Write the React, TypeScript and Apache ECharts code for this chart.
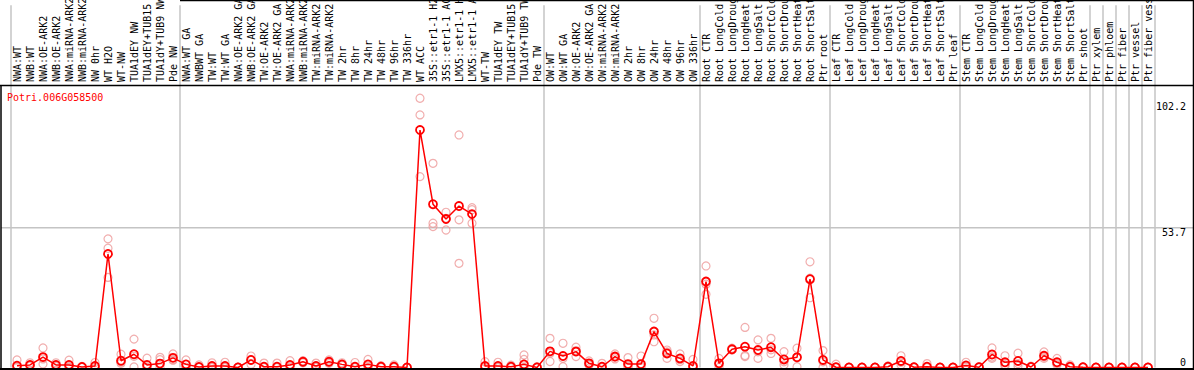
import React, { useEffect, useRef } from "react";
import * as echarts from "echarts";

const geneId = "Potri.006G058500";

const categories = [
  "NWA:WT", "NWB:WT", "NWA:OE-ARK2", "NWB:OE-ARK2", "NWA:miRNA-ARK2", "NWB:miRNA-ARK2",
  "NW 0hr", "WT H2O", "WT-NW", "TUA1dEY NW", "TUA1dEY+TUB15", "TUA1dY+TUB9 NW", "Pde NW",
  "NWA:WT GA", "NWBWT GA", "TW:WT", "TW:WT GA", "NWA:OE-ARK2 GA", "NWB:OE-ARK2 GA",
  "TW:OE-ARK2", "TW:OE-ARK2 GA", "NWA:miRNA-ARK2", "NWB:miRNA-ARK2", "TW:miRNA-ARK2",
  "TW:miRNA-ARK2", "TW 2hr", "TW 8hr", "TW 24hr", "TW 48hr", "TW 96hr", "TW 336hr",
  "WT ACC", "35S::etr1-1 H2", "35S::etr1-1 AC", "LMX5::etr1-1 H", "LMX5::etr1-1 A",
  "WT-TW", "TUA1dEY TW", "TUA1dEY+TUB15", "TUA1dY+TUB9 TW", "Pde TW",
  "OW:WT", "OW:WT GA", "OW:OE-ARK2", "OW:OE-ARK2 GA", "OW:miRNA-ARK2", "OW:miRNA-ARK2",
  "OW 2hr", "OW 8hr", "OW 24hr", "OW 48hr", "OW 96hr", "OW 336hr",
  "Root CTR", "Root LongCold", "Root LongDroug", "Root LongHeat", "Root LongSalt",
  "Root ShortCold", "Root ShortDrou", "Root ShortHeat", "Root ShortSalt", "Ptr root",
  "Leaf CTR", "Leaf LongCold", "Leaf LongDroug", "Leaf LongHeat", "Leaf LongSalt",
  "Leaf ShortCold", "Leaf ShortDrou", "Leaf ShortHeat", "Leaf ShortSalt", "Ptr leaf",
  "Stem CTR", "Stem LongCold", "Stem LongDroug", "Stem LongHeat", "Stem LongSalt",
  "Stem ShortCold", "Stem ShortDrou", "Stem ShortHeat", "Stem ShortSalt", "Ptr shoot",
  "Ptr xylem", "Ptr phloem", "Ptr fiber", "Ptr vessel", "Ptr fiber vess",
];

const meanValues = [
  0.7, 1.0, 4.0, 1.0, 1.0, 0.2, 0.6, 43.6, 2.6, 5.1, 1.0, 1.5, 3.7,
  1.2, 0.2, 0.6, 0.6, 0.0, 2.9, 0.3, 0.3, 1.0, 2.2, 0.6, 2.2, 1.2, 0.3, 1.2, 0.3, 0.3, 0.0,
  91.2, 62.7, 57.0, 62.0, 58.9, 0.6, 0.6, 0.3, 1.2, 0.0,
  6.2, 4.4, 6.1, 1.6, 0.3, 4.2, 1.3, 1.3, 13.8, 5.4, 3.5, 0.6,
  33.0, 1.6, 7.0, 8.0, 6.7, 7.8, 3.1, 3.9, 33.9, 2.9,
  0.1, 0.0, 0.0, 0.0, 0.3, 2.5, 0.1, 0.3, 0.0, 0.0,
  0.8, 0.1, 5.0, 2.0, 2.5, 0.2, 4.5, 2.0, 0.3, 0.1,
  0.0, 0.0, 0.0, 0.0, 0.0,
];

const rep1 = [
  2.9, 1.8, 7.5, 1.8, 2.8, 0.4, 1.9, 49.4, 5.1, 10.9, 3.6, 3.9, 5.2,
  2.9, 1.0, 1.8, 2.0, 0.1, 4.4, 1.7, 1.7, 2.6, 2.6, 1.7, 2.9, 1.8, 1.9, 3.1, 0.7, 1.0, 0.0,
  103.4, 78.4, 59.6, 89.3, 61.4, 2.2, 2.0, 0.9, 4.8, 0.3,
  11.2, 9.3, 7.8, 2.5, 1.6, 5.2, 3.8, 4.4, 18.9, 6.7, 5.2, 3.1,
  39.0, 3.5, 7.4, 15.4, 10.6, 11.2, 6.1, 7.4, 40.6, 6.5,
  1.3, 0.0, 0.0, 0.0, 0.6, 4.5, 0.2, 1.5, 0.0, 0.0,
  2.0, 0.3, 7.5, 4.5, 5.5, 0.5, 6.0, 3.5, 1.0, 0.2,
  0.0, 0.0, 0.0, 0.0, 0.0,
];

const rep2 = [
  0.5, 0.8, 3.3, 0.8, 0.3, 0.1, 0.0, 45.8, 2.1, 4.3, 0.0, 3.0, 3.0,
  0.0, 0.0, 0.0, 0.0, 0.0, 3.0, 0.0, 0.0, 0.5, 2.0, 0.2, 2.0, 1.0, 0.0, 0.6, 0.2, 0.0, 0.0,
  97.0, 55.4, 57.3, 56.7, 60.6, 0.0, 0.0, 0.0, 3.1, 0.0,
  5.5, 3.5, 6.5, 1.2, 0.0, 4.0, 0.5, 0.5, 12.5, 6.0, 3.0, 0.0,
  32.0, 1.2, 6.9, 4.6, 6.0, 6.8, 2.2, 4.0, 34.3, 2.2,
  0.0, 0.0, 0.0, 0.0, 0.2, 2.0, 0.0, 0.0, 0.0, 0.0,
  0.4, 0.0, 4.0, 1.0, 1.5, 0.1, 4.0, 1.5, 0.0, 0.0,
  0.0, 0.0, 0.0, 0.0, 0.0,
];

const rep3 = [
  0.0, 0.5, 1.3, 0.4, 0.1, 0.0, 0.0, 34.6, 1.6, 0.2, 0.0, 0.0, 2.8,
  0.0, 0.0, 0.0, 0.0, 0.0, 1.2, 0.0, 0.0, 0.0, 1.8, 0.0, 1.6, 0.8, 0.0, 0.0, 0.0, 0.0, 0.0,
  73.3, 54.1, 52.8, 40.0, 55.4, 0.0, 0.0, 0.0, 0.0, 0.0,
  2.3, 0.3, 4.2, 1.0, 0.0, 3.3, 0.0, 0.0, 9.9, 3.5, 2.3, 0.0,
  28.1, 0.0, 6.7, 4.2, 3.5, 5.4, 1.0, 0.3, 26.8, 0.0,
  0.0, 0.0, 0.0, 0.0, 0.0, 1.0, 0.0, 0.0, 0.0, 0.0,
  0.0, 0.0, 3.5, 0.5, 0.5, 0.0, 3.5, 1.0, 0.0, 0.0,
  0.0, 0.0, 0.0, 0.0, 0.0,
];

// indexes of categories that start a new group (separator drawn at their left edge)
const groupStarts = [0, 13, 41, 53, 63, 73, 83, 84, 85, 86, 87];
const yTickLabels = [102.2, 53.7, 0];
const gridLineValue = 53.7;
const Y_MAX = 108.1;

const FONT = "'DejaVu Sans Mono', monospace";
const SEP_COLOR = "#c4c4c4";
const MEAN_COLOR = "#ff0000";
const REP_COLOR = "#ee9a9a";

export default function App() {
  const ref = useRef<HTMLDivElement>(null);

  useEffect(() => {
    const chart = echarts.init(ref.current!, null, { renderer: "svg" });
    const gridLeft = 10.5;
    const gridRight = 1194 - 1154.5;
    const splitLine = {
      show: true,
      interval: (i: number) => groupStarts.includes(i),
      lineStyle: { color: SEP_COLOR, width: 1.5 },
    };
    const repSeries = [rep1, rep2, rep3].map((rep, k) => ({
      name: "rep" + (k + 1),
      type: "scatter",
      xAxisIndex: 1,
      yAxisIndex: 1,
      data: rep,
      symbol: "circle",
      symbolSize: 8,
      silent: true,
      z: 2,
      itemStyle: { color: "rgba(0,0,0,0)", borderColor: REP_COLOR, borderWidth: 1.2 },
    }));

    chart.setOption({
      animation: false,
      grid: [
        { left: gridLeft, right: gridRight, top: 0, height: 85 },
        { left: gridLeft, right: gridRight, top: 86, bottom: 2.5 },
      ],
      xAxis: [
        {
          type: "category",
          gridIndex: 0,
          data: categories,
          position: "bottom",
          axisLine: { show: false },
          axisTick: { show: false },
          splitLine,
          axisLabel: {
            inside: true,
            rotate: 90,
            margin: 3,
            interval: 0,
            hideOverlap: false,
            padding: [3, 0, 0, 0],
            fontFamily: FONT,
            fontSize: 10,
            color: "#000",
          },
        },
        {
          type: "category",
          gridIndex: 1,
          data: categories,
          axisLine: { show: false },
          axisTick: { show: false },
          axisLabel: { show: false },
          splitLine,
        },
      ],
      yAxis: [
        { type: "value", gridIndex: 0, show: false },
        {
          type: "value",
          gridIndex: 1,
          min: 0,
          max: Y_MAX,
          axisLine: { show: false },
          axisTick: { show: false },
          axisLabel: { show: false },
          splitLine: { show: false },
        },
      ],
      series: [
        ...repSeries,
        {
          name: "mean",
          type: "line",
          xAxisIndex: 1,
          yAxisIndex: 1,
          data: meanValues,
          symbol: "circle",
          symbolSize: 8,
          showAllSymbol: true,
          silent: true,
          z: 3,
          lineStyle: { color: MEAN_COLOR, width: 1.5 },
          itemStyle: { color: "rgba(0,0,0,0)", borderColor: MEAN_COLOR, borderWidth: 1.8 },
        },
      ],
    });

    const yPix = (v: number) => chart.convertToPixel({ yAxisIndex: 1 }, v) as number;
    const gy = yPix(gridLineValue);

    chart.setOption({
      graphic: [
        { type: "line", shape: { x1: 1, y1: gy, x2: 1194, y2: gy }, style: { stroke: SEP_COLOR, lineWidth: 1.5 }, z: 1 },
        { type: "line", shape: { x1: 0, y1: 85.5, x2: 1194, y2: 85.5 }, style: { stroke: "#000", lineWidth: 1.5 }, z: 10 },
        { type: "line", shape: { x1: 1, y1: 85, x2: 1, y2: 370 }, style: { stroke: "#000", lineWidth: 1.5 }, z: 10 },
        { type: "line", shape: { x1: 1193.5, y1: 0, x2: 1193.5, y2: 370 }, style: { stroke: "#000", lineWidth: 1.5 }, z: 10 },
        { type: "line", shape: { x1: 180, y1: 0.5, x2: 1194, y2: 0.5 }, style: { stroke: "#000", lineWidth: 1.5 }, z: 10 },
        { type: "line", shape: { x1: 0, y1: 369, x2: 1194, y2: 369 }, style: { stroke: "#000", lineWidth: 2 }, z: 10 },
        {
          type: "text",
          x: 7,
          y: 97,
          style: { text: geneId, fill: MEAN_COLOR, font: `10px ${FONT}`, textVerticalAlign: "middle" },
          z: 10,
        },
        ...yTickLabels.map((v) => ({
          type: "text",
          x: 1186,
          y: yPix(v),
          style: {
            text: String(v),
            fill: "#000",
            font: `10px ${FONT}`,
            textAlign: "right",
            textVerticalAlign: v === 0 ? "bottom" : "top",
          },
          z: 10,
        })),
      ],
    });

    return () => chart.dispose();
  }, []);

  return (
    <div
      ref={ref}
      style={{ position: "fixed", left: 0, top: 0, width: 1194, height: 370, background: "#fff" }}
    />
  );
}
